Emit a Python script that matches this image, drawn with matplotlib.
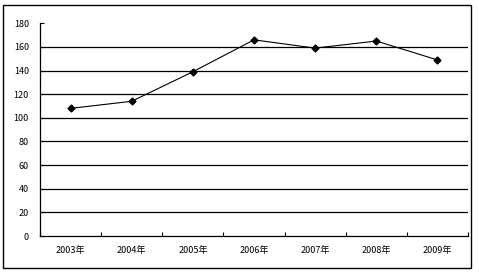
import matplotlib
matplotlib.use("Agg")
import matplotlib.pyplot as plt
from matplotlib.patches import Rectangle

plt.rcParams['font.family'] = ['Noto Sans CJK SC', 'DejaVu Sans']

years = ["2003年", "2004年", "2005年", "2006年", "2007年", "2008年", "2009年"]
values = [108, 114, 139, 166, 159, 165, 149]
yticks = [0, 20, 40, 60, 80, 100, 120, 140, 160, 180]

fig = plt.figure(figsize=(4.79, 2.74), dpi=100)
fig.patches.append(Rectangle((3/479, 1-268/274), 468/479, 263/274, transform=fig.transFigure,
                             fill=False, edgecolor='black', linewidth=1.0))
ax = fig.add_axes([40/479, 1-236/274, 428/479, (236-23.3)/274])

x = list(range(len(years)))
ax.plot(x, values, color='black', linewidth=0.8, marker='D', markersize=3.5,
        markerfacecolor='black', markeredgecolor='black')

ax.set_xlim(-0.5, len(years)-0.5)
ax.set_ylim(0, 180)
ax.set_yticks(yticks)
ax.set_yticklabels([str(v) for v in yticks], fontsize=6.5)
for v in yticks[1:-1]:
    ax.axhline(v, color='black', linewidth=0.9, zorder=0)

ax.set_xticks([i + 0.5 for i in range(-1, len(years))])
ax.set_xticklabels([])
ax.set_xticks(x, minor=True)
ax.set_xticklabels(years, minor=True, fontsize=6.5)
ax.tick_params(axis='x', which='major', direction='in', length=3, width=0.8)
ax.tick_params(axis='x', which='minor', length=0, pad=7)
ax.tick_params(axis='y', direction='in', length=3, width=0.8, pad=8)

for s in ['top', 'right']:
    ax.spines[s].set_visible(False)
for s in ['left', 'bottom']:
    ax.spines[s].set_linewidth(0.9)

fig.savefig("out.png", dpi=100)
